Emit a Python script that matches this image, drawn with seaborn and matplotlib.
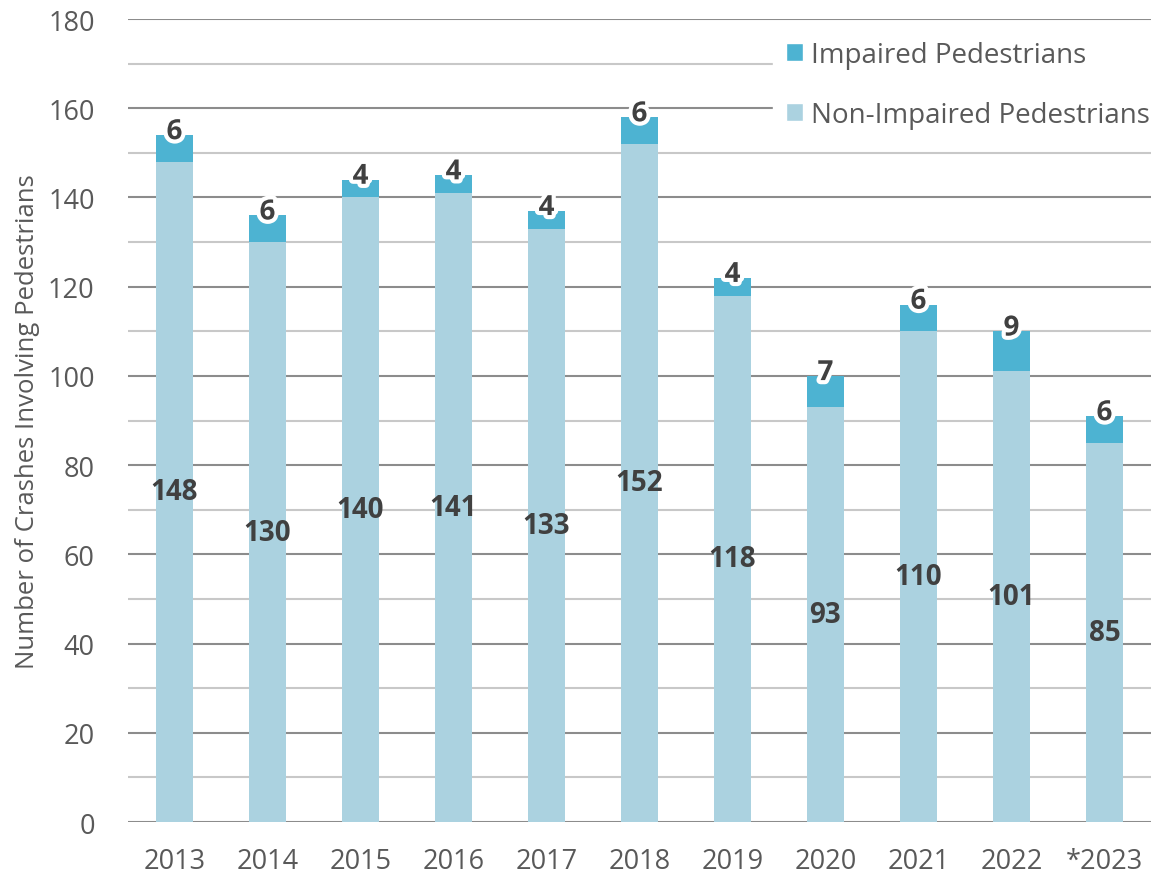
import matplotlib
matplotlib.use("Agg")
import matplotlib.pyplot as plt
import matplotlib.patheffects as pe
from matplotlib.patches import Patch
from matplotlib.ticker import MultipleLocator
import numpy as np
import pandas as pd
import seaborn as sns

years = ["2013", "2014", "2015", "2016", "2017", "2018", "2019", "2020", "2021", "2022", "*2023"]
non_impaired = [148, 130, 140, 141, 133, 152, 118, 93, 110, 101, 85]
impaired = [6, 6, 4, 4, 4, 6, 4, 7, 6, 9, 6]

C_IMP = "#4DB3D2"
C_NON = "#ABD2E0"
TXT = "#595959"
LBL = "#404040"

df = pd.DataFrame({"year": years, "non": non_impaired, "imp": impaired})
df["total"] = df["non"] + df["imp"]

sns.set_theme(style="white")
plt.rcParams["font.family"] = ["Open Sans", "DejaVu Sans"]

fig = plt.figure(figsize=(11.55, 8.78), dpi=100)
ax = fig.add_axes([0.1108, 0.0626, 0.8857, 0.9146])

# stacked look: total in the darker colour, non-impaired drawn over it
sns.barplot(data=df, x="year", y="total", color=C_IMP, width=0.4,
            saturation=1, linewidth=0, ax=ax, zorder=3)
sns.barplot(data=df, x="year", y="non", color=C_NON, width=0.4,
            saturation=1, linewidth=0, ax=ax, zorder=3)

glow = [pe.withStroke(linewidth=6, foreground="white")]
for i, row in df.iterrows():
    ax.text(i, row["non"] / 2, str(row["non"]), ha="center", va="center",
            fontsize=20, fontweight="bold", color=LBL, zorder=5)
    ax.annotate(str(row["imp"]), (i, row["total"]), xytext=(0, -3),
                textcoords="offset points", ha="center", va="baseline",
                fontsize=20, fontweight="bold", color=LBL, zorder=5,
                path_effects=glow)

ax.set_ylim(0, 180)
ax.set_xlim(-0.5, len(years) - 0.5)
ax.yaxis.set_major_locator(MultipleLocator(20))
ax.yaxis.set_minor_locator(MultipleLocator(10))
ax.grid(axis="y", which="major", color="#8c8c8c", linewidth=1.5, zorder=0)
ax.grid(axis="y", which="minor", color="#c8c8c8", linewidth=1.5, zorder=0)
ax.set_axisbelow(True)
for s in ax.spines.values():
    s.set_visible(False)

ax.tick_params(axis="both", which="both", length=0, labelsize=19.5,
               labelcolor=TXT)
ax.tick_params(axis="x", pad=18)
ax.tick_params(axis="y", pad=24)
ax.set_xlabel("")
ax.set_ylabel("Number of Crashes Involving Pedestrians", fontsize=18.5,
              color=TXT, labelpad=6)

handles = [Patch(facecolor=C_IMP, label="Impaired Pedestrians"),
           Patch(facecolor=C_NON, label="Non-Impaired Pedestrians")]
leg = ax.legend(handles=handles, loc="upper right",
                bbox_to_anchor=(1.013, 0.99), frameon=True, fontsize=20,
                handlelength=0.6, handleheight=0.6, handletextpad=0.3,
                labelspacing=1.15, borderpad=0.5, borderaxespad=0.0)
leg.get_frame().set_facecolor("white")
leg.get_frame().set_edgecolor("white")
leg.get_frame().set_alpha(1)
for t in leg.get_texts():
    t.set_color(TXT)
leg.set_zorder(6)

fig.savefig("out.png", dpi=100)
